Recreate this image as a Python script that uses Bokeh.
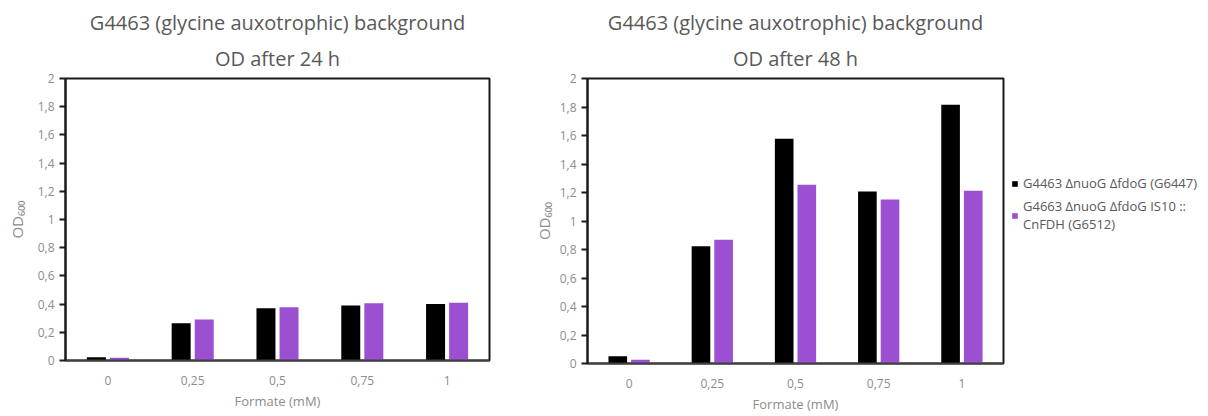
from bokeh.plotting import figure
from bokeh.models import (FactorRange, Range1d, FixedTicker, Title, Legend, LegendItem)
from bokeh.transform import dodge
from bokeh.layouts import row
from bokeh.embed import file_html
from bokeh.resources import INLINE

categories = ["0", "0,25", "0,5", "0,75", "1"]
od24_g6447 = [0.023, 0.265, 0.37, 0.39, 0.40]
od24_g6512 = [0.02, 0.29, 0.378, 0.406, 0.41]
od48_g6447 = [0.051, 0.823, 1.577, 1.207, 1.815]
od48_g6512 = [0.026, 0.868, 1.254, 1.151, 1.212]
y_ticks = [0, 0.2, 0.4, 0.6, 0.8, 1.0, 1.2, 1.4, 1.6, 1.8, 2.0]
y_tick_labels = ["0", "0,2", "0,4", "0,6", "0,8", "1", "1,2", "1,4", "1,6", "1,8", "2"]
series_names = ["G4463 \u0394nuoG \u0394fdoG (G6447)", "G4663 \u0394nuoG \u0394fdoG IS10 ::\nCnFDH (G6512)"]
title_line1 = "G4463 (glycine auxotrophic) background"
titles_line2 = ["OD after 24 h", "OD after 48 h"]

BLACK = "#000000"
PURPLE = "#9A50D0"
FONT = "Open Sans"
TITLE_C = "#595959"
LABEL_C = "#8c8c8c"


def make(vals_a, vals_b, sub, frame_w, frame_h, bl, br, bt, bb, ylab_standoff):
    p = figure(x_range=FactorRange(factors=categories, range_padding=0),
               y_range=Range1d(0, 2),
               frame_width=frame_w, frame_height=frame_h,
               min_border_left=bl, min_border_right=br,
               min_border_top=bt, min_border_bottom=bb,
               output_backend="svg", toolbar_location=None)
    src = dict(x=categories, a=vals_a, b=vals_b)
    ra = p.vbar(x=dodge("x", -0.136, range=p.x_range), top="a", width=0.224,
                source=src, fill_color=BLACK, line_color=None)
    rb = p.vbar(x=dodge("x", 0.136, range=p.x_range), top="b", width=0.224,
                source=src, fill_color=PURPLE, line_color=None)
    p.add_layout(Title(text=sub, align="center", text_font=FONT, text_font_size="20px",
                       text_font_style="normal", text_color=TITLE_C, standoff=14), "above")
    p.add_layout(Title(text=title_line1, align="center", text_font=FONT, text_font_size="20px",
                       text_font_style="normal", text_color=TITLE_C, standoff=0), "above")
    p.xgrid.grid_line_color = None
    p.ygrid.grid_line_color = None
    p.outline_line_color = "#1a1a1a"
    p.outline_line_width = 2
    p.background_fill_color = "white"
    p.border_fill_color = "white"

    ya = p.yaxis[0]
    ya.ticker = FixedTicker(ticks=y_ticks)
    ya.major_label_overrides = {t: l for t, l in zip(y_ticks, y_tick_labels)}
    ya.minor_tick_line_color = None
    ya.major_tick_in = 0
    ya.major_tick_out = 6
    ya.major_tick_line_width = 2
    ya.major_tick_line_color = "#1a1a1a"
    ya.axis_line_color = "#1a1a1a"
    ya.axis_line_width = 2
    ya.major_label_text_font = FONT
    ya.major_label_text_font_size = "12px"
    ya.major_label_text_color = LABEL_C
    ya.major_label_standoff = 5
    ya.axis_label = "OD\u2086\u2080\u2080"
    ya.axis_label_text_font = FONT
    ya.axis_label_text_font_size = "15px"
    ya.axis_label_text_font_style = "normal"
    ya.axis_label_text_color = LABEL_C
    ya.axis_label_standoff = ylab_standoff

    xa = p.xaxis[0]
    xa.major_tick_line_color = None
    xa.axis_line_color = "#404040"
    xa.axis_line_width = 2
    xa.major_label_text_font = FONT
    xa.major_label_text_font_size = "12px"
    xa.major_label_text_color = LABEL_C
    xa.major_label_standoff = 9
    xa.axis_label = "Formate (mM)"
    xa.axis_label_text_font = FONT
    xa.axis_label_text_font_size = "13px"
    xa.axis_label_text_font_style = "normal"
    xa.axis_label_text_color = LABEL_C
    xa.axis_label_standoff = 4
    return p, ra, rb


p1, _, _ = make(od24_g6447, od24_g6512, titles_line2[0], 424, 282, 65, 41, 77, 52, 8)
p2, ra, rb = make(od48_g6447, od48_g6512, titles_line2[1], 416, 285, 49, 201, 78, 50, 3)

legend = Legend(items=[LegendItem(label=series_names[0], renderers=[ra]),
                       LegendItem(label=series_names[1], renderers=[rb])],
                location=(8, 130), orientation="vertical",
                glyph_width=7, glyph_height=7, spacing=5, padding=2, margin=0,
                label_text_font=FONT, label_text_font_size="13px",
                label_text_color="#595959", label_standoff=5,
                border_line_color=None, background_fill_alpha=0)
p2.add_layout(legend, "right")

layout = row(p1, p2, spacing=0)
open("out.html", "w").write(file_html(layout, INLINE))
